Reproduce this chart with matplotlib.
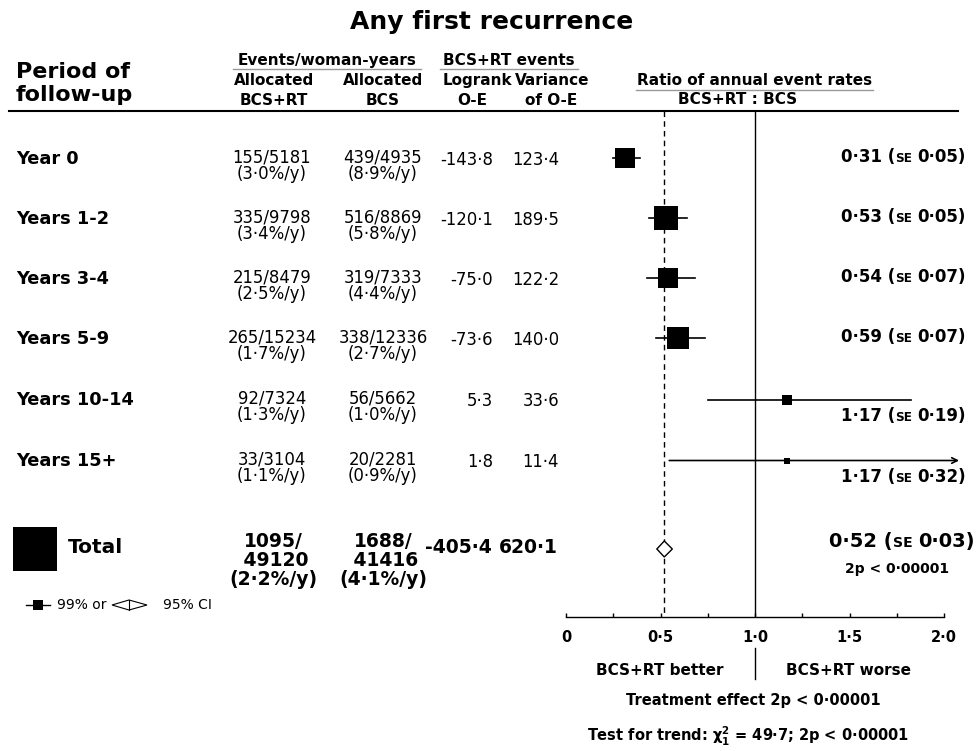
import numpy as np
import matplotlib
matplotlib.use('Agg')
import matplotlib.pyplot as plt
from matplotlib.transforms import Affine2D
from matplotlib.patches import Polygon
from matplotlib.lines import Line2D

plt.rcParams['font.family'] = ['DejaVu Sans']
plt.rcParams['mathtext.default'] = 'bf'

# ---- data ----
periods = ['Year 0', 'Years 1-2', 'Years 3-4', 'Years 5-9', 'Years 10-14', 'Years 15+']
rt_events = ['155/5181', '335/9798', '215/8479', '265/15234', '92/7324', '33/3104']
rt_rate = ['(3·0%/y)', '(3·4%/y)', '(2·5%/y)', '(1·7%/y)', '(1·3%/y)', '(1·1%/y)']
bcs_events = ['439/4935', '516/8869', '319/7333', '338/12336', '56/5662', '20/2281']
bcs_rate = ['(8·9%/y)', '(5·8%/y)', '(4·4%/y)', '(2·7%/y)', '(1·0%/y)', '(0·9%/y)']
o_minus_e = [-143.8, -120.1, -75.0, -73.6, 5.3, 1.8]
variance = [123.4, 189.5, 122.2, 140.0, 33.6, 11.4]
ratio_txt = ['0·31', '0·53', '0·54', '0·59', '1·17', '1·17']
se_txt = ['0·05', '0·05', '0·07', '0·07', '0·19', '0·32']

total_rt = ['1095/', ' 49120', '(2·2%/y)']
total_bcs = ['1688/', ' 41416', '(4·1%/y)']
total_oe = -405.4
total_var = 620.1
total_ratio = '0·52'
total_se = '0·03'

tick_vals = [0, 0.5, 1.0, 1.5, 2.0]
tick_labels = ['0', '0·5', '1·0', '1·5', '2·0']

# ---- layout (pixels) ----
W, H = 979, 751
label_base = [164, 224, 284, 344, 405, 466]
ratio_off = [-2, -2, -2, -2, 16, 16]
total_y = 549
x_arrow = 2.08          # where the clipped CI arrow stops
sq_scale = 1.78         # square side in px per sqrt(variance)

fig = plt.figure(figsize=(W / 100, H / 100), dpi=100)
pix = Affine2D().scale(1 / W, -1 / H).translate(0, 1) + fig.transFigure


def txt(x, y, s, size, weight='normal', ha='left', va='baseline', **kw):
    return fig.text(x, y, s, fontsize=size, fontweight=weight, ha=ha, va=va,
                    transform=pix, **kw)


def hline(x0, x1, y, **kw):
    fig.add_artist(Line2D([x0, x1], [y, y], transform=pix, **kw))


def fmt(v):
    return ('%.1f' % v).replace('.', '·')


def ratio_text(xr, y, rr, se, size):
    r = fig.canvas.get_renderer()
    gap = 0.32 * size * 100 / 72
    t = txt(xr, y, se + ')', size, 'bold', ha='right')
    x = xr - t.get_window_extent(r).width - gap
    t = txt(x, y, 'SE', size * 0.72, 'bold', ha='right')
    x -= t.get_window_extent(r).width
    txt(x, y, rr + ' (', size, 'bold', ha='right')


# ---- title and headers ----
txt(492, 29, 'Any first recurrence', 18, 'bold', ha='center')

txt(16, 78, 'Period of', 16, 'bold')
txt(16, 101, 'follow-up', 16, 'bold')

hs = 11
txt(327, 65, 'Events/woman-years', hs, 'bold', ha='center')
hline(233, 421, 69, color='#999999', lw=1)
txt(509, 65, 'BCS+RT events', hs, 'bold', ha='center')
hline(440, 578, 69, color='#999999', lw=1)
txt(274, 85, 'Allocated', hs, 'bold', ha='center')
txt(274, 105, 'BCS+RT', hs, 'bold', ha='center')
txt(383, 85, 'Allocated', hs, 'bold', ha='center')
txt(383, 105, 'BCS', hs, 'bold', ha='center')
txt(512, 85, 'Logrank', hs, 'bold', ha='right')
txt(515, 85, 'Variance', hs, 'bold', ha='left')
txt(472, 105, 'O-E', hs, 'bold', ha='center')
txt(551, 105, 'of O-E', hs, 'bold', ha='center')
txt(755, 85, 'Ratio of annual event rates', hs, 'bold', ha='center')
hline(636, 873, 90, color='#999999', lw=1)
txt(738, 104, 'BCS+RT : BCS', hs, 'bold', ha='center')

hline(9, 958, 111, color='black', lw=1.5)

# ---- table rows ----
# two-line cells: va='baseline' pins the last line
for i, p in enumerate(periods):
    yb = label_base[i]
    txt(16, yb, p, 12.8, 'bold')
    txt(272, yb + 15, rt_events[i] + '\n' + rt_rate[i], 11.9, ha='center',
        multialignment='center', linespacing=0.88)
    txt(383, yb + 15, bcs_events[i] + '\n' + bcs_rate[i], 11.9, ha='center',
        multialignment='center', linespacing=0.88)
    txt(493, yb + 1, fmt(o_minus_e[i]), 11.9, ha='right')
    txt(559, yb + 1, fmt(variance[i]), 11.9, ha='right')
    ratio_text(966, yb + ratio_off[i], ratio_txt[i], se_txt[i], 12)

# total row
txt(68, 553, 'Total', 14.5, 'bold')
txt(273, 585, '\n'.join(total_rt), 13.5, 'bold', ha='center',
    multialignment='center', linespacing=1.0)
txt(383, 585, '\n'.join(total_bcs), 13.5, 'bold', ha='center',
    multialignment='center', linespacing=1.0)
txt(492, 553, fmt(total_oe), 13.5, 'bold', ha='right')
txt(558, 553, fmt(total_var), 13.5, 'bold', ha='right')
ratio_text(975, 547, total_ratio, total_se, 14)
txt(897, 573, '2p < 0·00001', 10, 'bold', ha='center')

side_total = sq_scale * np.sqrt(total_var)
fig.add_artist(Line2D([35.5], [total_y], transform=pix, marker='s', color='black',
                      markersize=side_total * 0.72, markeredgewidth=0))

# legend key
fig.add_artist(Line2D([26, 50], [605, 605], transform=pix, color='black', lw=1))
fig.add_artist(Line2D([38], [605], transform=pix, marker='s', color='black',
                      markersize=7.2, markeredgewidth=0))
txt(57, 609, '99% or', 10)
fig.add_artist(Polygon([[112, 605], [129, 600], [147, 605], [129, 610]], closed=True,
                       facecolor='white', edgecolor='black', lw=0.8, transform=pix))
fig.add_artist(Line2D([129, 129], [600, 610], transform=pix, color='black', lw=0.8))
txt(163, 609, '95% CI', 10)

# ---- forest panel ----
ax = fig.add_axes([566 / W, (H - 617) / H, 378 / W, (617 - 111) / H])
ax.set_xlim(0, 2)
ax.set_ylim(617, 111)
ax.patch.set_alpha(0)
for sp in ['top', 'left', 'right']:
    ax.spines[sp].set_visible(False)
ax.spines['bottom'].set_linewidth(1)
ax.set_yticks([])
ax.set_xticks(tick_vals)
ax.set_xticklabels(tick_labels, fontsize=10.5, fontweight='bold')
ax.set_xticks(np.arange(0.25, 2.0, 0.5), minor=True)
ax.tick_params(axis='x', which='both', direction='in', length=3, width=1, pad=9)

log_rr = np.array(o_minus_e) / np.array(variance)
se_log = 1 / np.sqrt(variance)
rr = np.exp(log_rr)
lo = np.exp(log_rr - 2.576 * se_log)
hi = np.exp(log_rr + 2.576 * se_log)

tot_rr = np.exp(total_oe / total_var)
tot_lo = np.exp(total_oe / total_var - 1.96 / np.sqrt(total_var))
tot_hi = np.exp(total_oe / total_var + 1.96 / np.sqrt(total_var))

ax.plot([1, 1], [111, 617], color='black', lw=1)
ax.plot([tot_rr, tot_rr], [111, 617], color='black', lw=1, ls=(0, (4, 3)))

for i in range(len(periods)):
    ym = label_base[i] - 5.5
    if hi[i] > 2:
        ax.annotate('', xy=(x_arrow, ym), xytext=(lo[i], ym),
                    arrowprops=dict(arrowstyle='->', lw=1.2, color='black',
                                    shrinkA=0, shrinkB=0, mutation_scale=10),
                    annotation_clip=False)
    else:
        ax.plot([lo[i], hi[i]], [ym, ym], color='black', lw=1.2, clip_on=False)
    ax.plot(rr[i], ym, marker='s', color='black', markeredgewidth=0,
            markersize=sq_scale * np.sqrt(variance[i]) * 0.72, clip_on=False)

ax.add_patch(Polygon([[tot_lo, total_y], [tot_rr, total_y - 8], [tot_hi, total_y],
                      [tot_rr, total_y + 8]], closed=True, facecolor='white',
                     edgecolor='black', lw=1, zorder=3))

# ---- bottom captions ----
txt(660, 675, 'BCS+RT better', 11, 'bold', ha='center')
txt(849, 675, 'BCS+RT worse', 11, 'bold', ha='center')
fig.add_artist(Line2D([755, 755], [648, 679], transform=pix, color='black', lw=1))
txt(753, 705, 'Treatment effect 2p < 0·00001', 10.5, 'bold', ha='center')
txt(748, 742, r'Test for trend: $\chi^2_1$ = 49·7; 2p < 0·00001', 10.5, 'bold', ha='center')

fig.savefig('out.png', dpi=100)
